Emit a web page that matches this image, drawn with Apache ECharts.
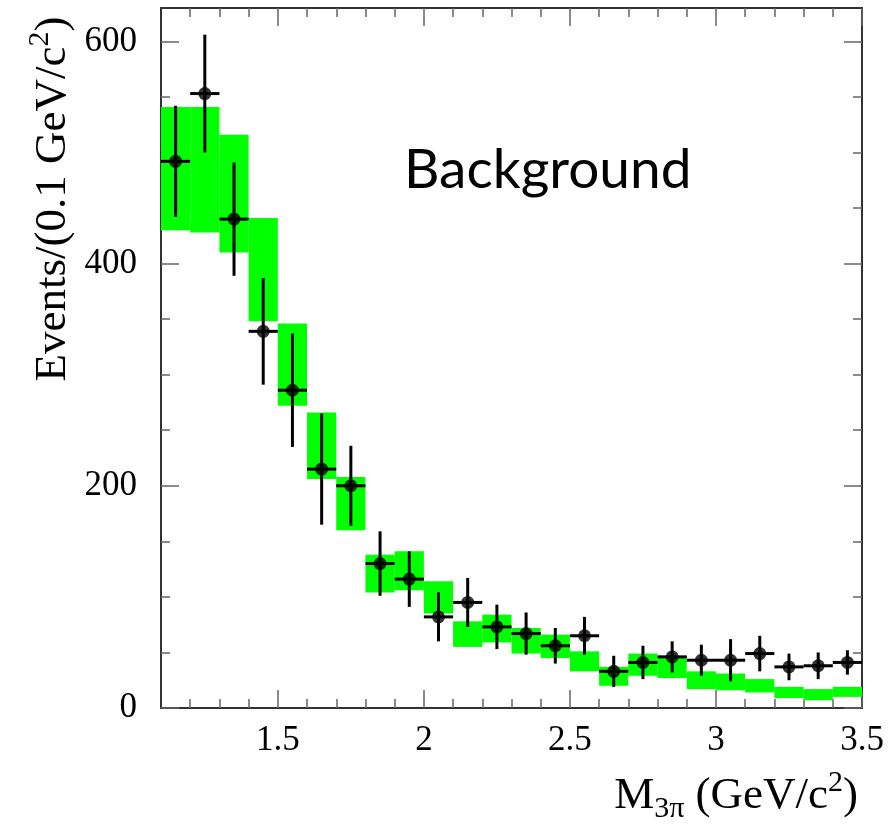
<!DOCTYPE html>
<html>
<head>
<meta charset="utf-8">
<script src="https://cdn.jsdelivr.net/npm/echarts@6/dist/echarts.min.js"></script>
<style>html,body{margin:0;padding:0;background:#fff}#c{width:889px;height:829px}</style>
</head>
<body>
<div id="c"></div>
<script>
// ---- data ----
const binCenters = [1.15,1.25,1.35,1.45,1.55,1.65,1.75,1.85,1.95,2.05,2.15,2.25,2.35,2.45,2.55,2.65,2.75,2.85,2.95,3.05,3.15,3.25,3.35,3.45];
const binHalfWidth = 0.05;
const counts = [492,553,440,339,286,215,200,130,116,82,95,73,67,56,65,33,41,46,43,43,49,37,38,41];
const countErr = [50,53,51,48,51,50,36,29,25,22,22,20,19,16,17,14,15,14,14,19,16,12,12,11];
const bandTop = [541,541,516,441,346,266,208,138,141,114,78,84,72,66,51,37,49,47,33,31,26,19,17,19];
const bandBottom = [430,428,410,348,272,206,160,104,106,85,55,59,49,45,33,20,29,27,17,16,14,9,7,10];
const xMajorTicks = [1.5,2,2.5,3,3.5];
const xMinorTicks = [1.2,1.3,1.4,1.6,1.7,1.8,1.9,2.1,2.2,2.3,2.4,2.6,2.7,2.8,2.9,3.1,3.2,3.3,3.4];
const yMajorTicks = [0,200,400,600];
const yMinorTicks = [50,100,150,250,300,350,450,500,550];
const xRange = [1.1, 3.5];
const yRange = [0, 630];

const serif = 'Liberation Serif';
const frameColor = '#333';
const tickColor = '#666';

function xAx(pos, ticks, len, showLabel, showLine) {
  return {
    type: 'value', position: pos, min: xRange[0], max: xRange[1],
    axisLine: {show: showLine, onZero: false, lineStyle: {color: frameColor, width: 2}},
    axisTick: {show: true, inside: true, length: len, customValues: ticks, lineStyle: {color: tickColor, width: 1.5}},
    axisLabel: showLabel ? {show: true, customValues: ticks, margin: 15, color: '#000', fontFamily: serif, fontSize: 35} : {show: false},
    splitLine: {show: false}
  };
}
function yAx(pos, ticks, len, showLabel, showLine) {
  return {
    type: 'value', position: pos, min: yRange[0], max: yRange[1],
    axisLine: {show: showLine, onZero: false, lineStyle: {color: frameColor, width: 2}},
    axisTick: {show: true, inside: true, length: len, customValues: ticks, lineStyle: {color: tickColor, width: 1.5}},
    axisLabel: showLabel ? {show: true, customValues: ticks, margin: 24, color: '#000', fontFamily: serif, fontSize: 35} : {show: false},
    splitLine: {show: false}
  };
}

const bandData = binCenters.map((c, i) => [c - binHalfWidth, c + binHalfWidth, bandTop[i], bandBottom[i]]);
const errData = binCenters.map((c, i) => [c, counts[i], countErr[i]]);
const pointData = binCenters.map((c, i) => [c, counts[i]]);

const chart = echarts.init(document.getElementById('c'));
chart.setOption({
  animation: false,
  backgroundColor: '#fff',
  grid: {left: 161, right: 27, top: 8, bottom: 121, containLabel: false},
  xAxis: [
    xAx('bottom', xMajorTicks, 18, true, true),
    xAx('bottom', xMinorTicks, 9, false, false),
    xAx('top', xMajorTicks, 18, false, true),
    xAx('top', xMinorTicks, 9, false, false)
  ],
  yAxis: [
    yAx('left', yMajorTicks, 18, true, true),
    yAx('left', yMinorTicks, 9, false, false),
    yAx('right', yMajorTicks, 18, false, true),
    yAx('right', yMinorTicks, 9, false, false)
  ],
  series: [
    {
      type: 'custom', xAxisIndex: 0, yAxisIndex: 0, data: bandData,
      encode: {x: [0, 1], y: [2, 3]}, z: 1,
      renderItem: function (params, api) {
        const p1 = api.coord([api.value(0), api.value(2)]);
        const p2 = api.coord([api.value(1), api.value(3)]);
        return {type: 'rect', shape: {x: p1[0], y: p1[1], width: p2[0] - p1[0], height: p2[1] - p1[1]}, style: {fill: '#00ff00'}};
      }
    },
    {
      type: 'custom', xAxisIndex: 0, yAxisIndex: 0, data: errData,
      encode: {x: 0, y: 1}, z: 2,
      renderItem: function (params, api) {
        const c = api.value(0), v = api.value(1), e = api.value(2);
        const top = api.coord([c, v + e]);
        const bot = api.coord([c, v - e]);
        const l = api.coord([c - binHalfWidth, v]);
        const r = api.coord([c + binHalfWidth, v]);
        const st = {stroke: '#000', lineWidth: 3};
        return {type: 'group', children: [
          {type: 'line', shape: {x1: top[0], y1: top[1], x2: bot[0], y2: bot[1]}, style: st},
          {type: 'line', shape: {x1: l[0], y1: l[1], x2: r[0], y2: r[1]}, style: st}
        ]};
      }
    },
    {
      type: 'scatter', xAxisIndex: 0, yAxisIndex: 0, data: pointData,
      symbol: 'circle', symbolSize: 13, itemStyle: {color: '#000'}, z: 3
    }
  ],
  graphic: [
    {
      type: 'text', x: 404, y: 170,
      style: {text: 'Background', fontFamily: 'Lato', fontSize: 55, fill: '#000', textAlign: 'left', textVerticalAlign: 'middle'}
    },
    {
      type: 'text', x: 53, y: 199, rotation: Math.PI / 2,
      style: {
        text: 'Events/(0.1 GeV/c{sup|2})',
        fontFamily: serif, fontSize: 45, fill: '#000', lineHeight: 56,
        textAlign: 'center', textVerticalAlign: 'middle',
        rich: {sup: {fontFamily: serif, fontSize: 30, lineHeight: 26, verticalAlign: 'top', fill: '#000'}}
      }
    },
    {
      type: 'text', x: 858, y: 796,
      style: {
        text: 'M{sub|3π} (GeV/c{sup|2})',
        fontFamily: serif, fontSize: 45, fill: '#000', lineHeight: 56,
        textAlign: 'right', textVerticalAlign: 'middle',
        rich: {
          sup: {fontFamily: serif, fontSize: 30, lineHeight: 26, verticalAlign: 'top', fill: '#000'},
          sub: {fontFamily: serif, fontSize: 30, lineHeight: 26, verticalAlign: 'bottom', fill: '#000'}
        }
      }
    }
  ]
});
</script>
</body>
</html>
